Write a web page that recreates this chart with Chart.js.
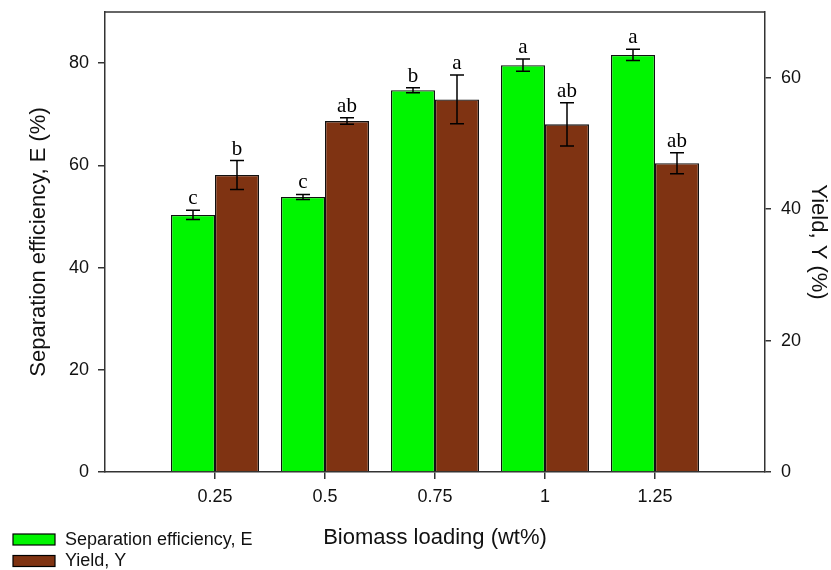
<!DOCTYPE html>
<html>
<head>
<meta charset="utf-8">
<script src="https://cdn.jsdelivr.net/npm/chart.js@4"></script>
<style>
  html, body { margin: 0; padding: 0; background: #fff; }
  #wrap { width: 831px; height: 570px; position: relative; }
</style>
</head>
<body>
<div id="wrap"><canvas id="chart"></canvas></div>
<script>
// biomass loading (wt%)
const loadings = [0.25, 0.5, 0.75, 1, 1.25];
// separation efficiency E (%), left axis
const sepValues = [50.3, 53.8, 74.7, 79.6, 81.6];
const sepErrors = [0.9, 0.5, 0.5, 1.2, 1.1];
const sepLetters = ['c', 'c', 'b', 'a', 'a'];
// yield Y (%), right axis
const yieldValues = [45.2, 53.4, 56.7, 52.9, 47.0];
const yieldErrors = [2.2, 0.5, 3.7, 3.3, 1.6];
const yieldLetters = ['b', 'ab', 'a', 'ab', 'ab'];

const axisColor = '#333';
const textColor = '#111';
const sans = "'Liberation Sans', Arial, sans-serif";

// error bars + significance letters
const errorBarPlugin = {
  id: 'errorBars',
  afterDatasetsDraw(chart) {
    const ctx = chart.ctx;
    chart.data.datasets.forEach((ds, di) => {
      const meta = chart.getDatasetMeta(di);
      const scale = chart.scales[ds.yAxisID];
      ctx.save();
      ctx.strokeStyle = '#000';
      ctx.lineWidth = 1.5;
      meta.data.forEach((bar, i) => {
        const v = ds.data[i].y;
        const e = ds.errors[i];
        const yTop = scale.getPixelForValue(v + e);
        const yBot = scale.getPixelForValue(v - e);
        const x = bar.x;
        ctx.beginPath();
        ctx.moveTo(x, yTop); ctx.lineTo(x, yBot);
        ctx.moveTo(x - 7, yTop); ctx.lineTo(x + 7, yTop);
        ctx.moveTo(x - 7, yBot); ctx.lineTo(x + 7, yBot);
        ctx.stroke();
        ctx.fillStyle = '#000';
        ctx.font = "21px 'Liberation Serif', 'Times New Roman', serif";
        ctx.textAlign = 'center';
        ctx.textBaseline = 'alphabetic';
        ctx.fillText(ds.letters[i], x, yTop - 6);
      });
      ctx.restore();
    });
  }
};

// top frame line + legend at bottom left
const framePlugin = {
  id: 'frame',
  afterDraw(chart) {
    const ctx = chart.ctx;
    const a = chart.chartArea;
    ctx.save();
    ctx.strokeStyle = axisColor;
    ctx.lineWidth = 1.5;
    ctx.beginPath();
    ctx.moveTo(a.left, a.top);
    ctx.lineTo(a.right, a.top);
    ctx.stroke();

    ctx.font = '18px ' + sans;
    ctx.textBaseline = 'middle';
    ctx.textAlign = 'left';
    chart.data.datasets.forEach((ds, i) => {
      const y = 534 + i * 21.5;
      ctx.fillStyle = ds.backgroundColor;
      ctx.fillRect(13, y, 42, 11);
      ctx.strokeStyle = '#000';
      ctx.lineWidth = 1.2;
      ctx.strokeRect(13, y, 42, 11);
      ctx.fillStyle = textColor;
      ctx.fillText(ds.label, 65, y + 6);
    });
    ctx.restore();
  }
};

// fixed axis sizes, no extra label overflow padding
function fitVertical(width) {
  return (s) => {
    s.width = width;
    s.paddingTop = 0;
    s.paddingBottom = 0;
  };
}

new Chart(document.getElementById('chart'), {
  type: 'bar',
  data: {
    datasets: [
      {
        label: 'Separation efficiency, E',
        data: loadings.map((x, i) => ({ x: x, y: sepValues[i] })),
        errors: sepErrors,
        letters: sepLetters,
        yAxisID: 'yE',
        backgroundColor: '#00f500',
        borderColor: '#111',
        borderWidth: 1.3,
        categoryPercentage: 0.8,
        barPercentage: 1.0
      },
      {
        label: 'Yield, Y',
        data: loadings.map((x, i) => ({ x: x, y: yieldValues[i] })),
        errors: yieldErrors,
        letters: yieldLetters,
        yAxisID: 'yY',
        backgroundColor: '#7f3312',
        borderColor: '#111',
        borderWidth: 1.3,
        categoryPercentage: 0.8,
        barPercentage: 1.0
      }
    ]
  },
  options: {
    responsive: true,
    maintainAspectRatio: false,
    animation: false,
    layout: { padding: { top: 12, left: 0, right: 0, bottom: 0 } },
    plugins: {
      legend: { display: false },
      tooltip: { enabled: false }
    },
    scales: {
      x: {
        type: 'linear',
        min: 0,
        max: 1.5,
        offset: false,
        afterFit: (s) => { s.height = 98; s.paddingLeft = 0; s.paddingRight = 0; },
        grid: {
          display: true,
          offset: false,
          drawOnChartArea: false,
          drawTicks: true,
          tickLength: 7,
          color: (c) => loadings.includes(c.tick && c.tick.value) ? axisColor : 'rgba(0,0,0,0)',
          lineWidth: 1.5
        },
        border: { display: true, color: axisColor, width: 1.5 },
        ticks: {
          stepSize: 0.25,
          padding: 7,
          color: textColor,
          font: { family: sans, size: 18 },
          maxRotation: 0,
          autoSkip: false,
          callback: (v) => loadings.includes(v) ? String(v) : ''
        },
        title: {
          display: true,
          text: 'Biomass loading (wt%)',
          color: textColor,
          font: { family: sans, size: 22 },
          padding: { top: 0, bottom: 19 }
        }
      },
      yE: {
        type: 'linear',
        position: 'left',
        min: 0,
        max: 90,
        afterFit: fitVertical(105),
        grid: {
          display: true,
          drawOnChartArea: false,
          drawTicks: true,
          tickLength: 7,
          color: axisColor,
          lineWidth: 1.5
        },
        border: { display: true, color: axisColor, width: 1.5 },
        ticks: {
          stepSize: 20,
          includeBounds: false,
          padding: 9,
          color: textColor,
          font: { family: sans, size: 18 }
        },
        title: {
          display: true,
          text: 'Separation efficiency, E (%)',
          color: textColor,
          font: { family: sans, size: 22 },
          padding: { top: 26, bottom: 0 }
        }
      },
      yY: {
        type: 'linear',
        position: 'right',
        min: 0,
        max: 70,
        afterFit: fitVertical(66),
        grid: {
          display: true,
          drawOnChartArea: false,
          drawTicks: true,
          tickLength: 6,
          color: axisColor,
          lineWidth: 1.5
        },
        border: { display: true, color: axisColor, width: 1.5 },
        ticks: {
          stepSize: 20,
          includeBounds: false,
          padding: 10,
          color: textColor,
          font: { family: sans, size: 18 }
        },
        title: {
          display: true,
          text: 'Yield, Y (%)',
          color: textColor,
          font: { family: sans, size: 22 },
          padding: { top: 0, bottom: 0 }
        }
      }
    }
  },
  plugins: [errorBarPlugin, framePlugin]
});
</script>
</body>
</html>
